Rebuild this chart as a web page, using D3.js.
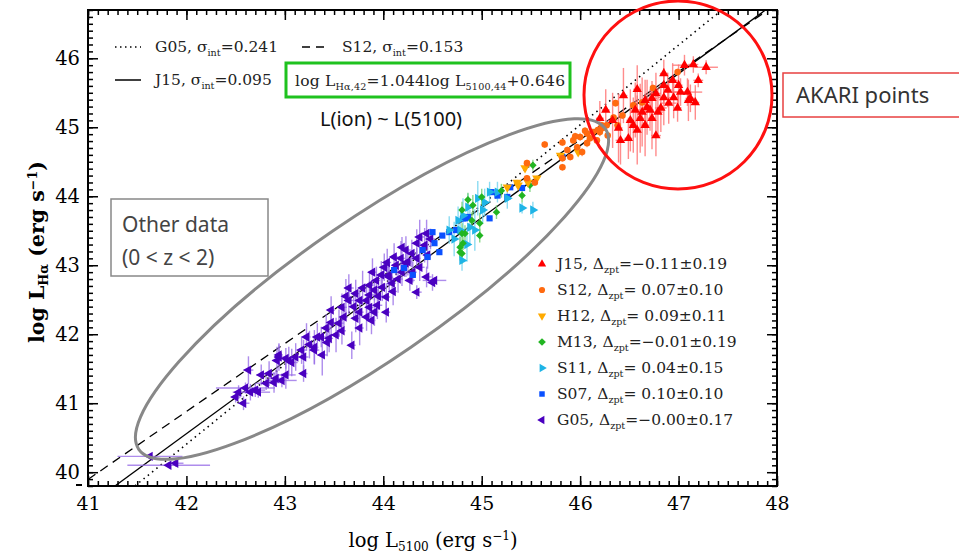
<!DOCTYPE html>
<html><head><meta charset="utf-8">
<script src="https://cdn.jsdelivr.net/npm/d3@7"></script>
<style>body{margin:0;background:#fff} svg{display:block}</style>
</head><body>
<svg id="c" width="959" height="558"></svg>
<script>
// ---------------- data ----------------
const xTicks = [41, 42, 43, 44, 45, 46, 47, 48];
const yTicks = [40, 41, 42, 43, 44, 45, 46];
const seriesNames = ["J15", "S12", "H12", "M13", "S11", "S07", "G05"];
const seriesColors = ["#ff0000", "#ff6a10", "#ffaa00", "#22b522", "#1eb4e6", "#0a50ff", "#4a00c0"];
const errColors = ["#ff7070", "#ffa070", "#ffcc66", "#70d070", "#70d4f0", "#6090ff", "#9a70e8"];
const legendDelta = ["=\u22120.11\u00b10.19", "= 0.07\u00b10.10", "= 0.09\u00b10.11", "=\u22120.01\u00b10.19", "= 0.04\u00b10.15", "= 0.10\u00b10.10", "=\u22120.00\u00b10.17"];
// fit lines: name, slope, value at log L5100 = 44, sigma_int
const fitNames = ["G05", "S12", "J15"];
const fitSlopes = [1.157, 0.985, 1.044];
const fitAt44 = [42.72, 42.85, 42.646];
const fitSigma = ["0.241", "0.153", "0.095"];

// each point: [logL5100, logLHa, xerr, yerr]
const J15 = [[47.06,45.90,0.12,0.15],[47.15,45.91,0.05,0.12],[47.28,45.87,0.12,0.1],[46.85,45.78,0.04,0.2],[47.20,45.68,0.05,0.1],[47.00,45.61,0.04,0.3],[46.85,45.61,0.05,0.25],[46.58,45.55,0.04,0.35],[46.44,45.46,0.04,0.4],[46.77,45.49,0.05,0.3],[46.85,45.43,0.06,0.4],[46.66,45.39,0.04,0.3],[46.73,45.42,0.05,0.25],[47.02,45.51,0.1,0.2],[47.12,45.42,0.05,0.2],[47.17,45.36,0.04,0.25],[46.99,45.28,0.04,0.2],[46.82,45.28,0.06,0.35],[46.71,45.25,0.04,0.3],[46.56,45.25,0.05,0.4],[46.61,45.13,0.04,0.5],[46.51,45.10,0.04,0.45],[46.58,44.96,0.03,0.5],[46.49,44.84,0.04,0.3],[46.41,44.81,0.05,0.35],[46.73,45.13,0.04,0.45],[46.90,45.35,0.08,0.3],[47.09,45.51,0.15,0.2],[46.68,45.29,0.05,0.4],[46.63,45.22,0.04,0.5],[46.54,45.03,0.04,0.4],[46.79,45.22,0.05,0.35],[46.95,45.43,0.04,0.3],[46.89,45.54,0.04,0.25],[46.26,45.25,0.04,0.3],[46.33,45.10,0.05,0.4],[46.20,45.13,0.04,0.25],[46.39,44.99,0.04,0.5],[46.66,45.03,0.04,0.45],[46.77,44.88,0.05,0.3],[46.94,45.68,0.05,0.25],[47.10,45.39,0.04,0.3]];
const S12 = [[46.99,45.80,0.02,0.05],[46.74,45.57,0.02,0.05],[46.63,45.36,0.02,0.05],[46.54,45.32,0.02,0.05],[46.36,45.35,0.02,0.05],[46.43,45.17,0.02,0.05],[46.34,45.14,0.02,0.05],[46.27,45.03,0.02,0.05],[46.38,45.03,0.02,0.05],[46.20,44.93,0.02,0.06],[45.64,44.75,0.02,0.05],[45.82,44.78,0.02,0.05],[45.93,44.81,0.02,0.05],[46.00,44.86,0.02,0.06],[46.07,44.91,0.02,0.05],[46.13,44.93,0.02,0.05],[46.18,44.96,0.02,0.05],[46.23,44.99,0.02,0.05],[46.07,44.77,0.02,0.06],[45.97,44.71,0.02,0.05],[45.87,44.67,0.02,0.05],[46.17,44.81,0.02,0.05],[46.02,44.64,0.02,0.06],[45.90,44.57,0.02,0.05],[45.82,44.42,0.02,0.05],[45.46,44.48,0.02,0.05],[45.54,44.20,0.02,0.05],[45.46,44.26,0.02,0.05],[45.82,44.55,0.02,0.05],[46.10,44.84,0.02,0.05],[46.28,44.88,0.02,0.05],[46.22,45.03,0.02,0.05],[46.05,44.95,0.02,0.05],[45.95,44.87,0.02,0.05]];
const H12 = [[45.44,44.41,0.02,0.04],[45.36,44.20,0.02,0.04],[45.47,44.20,0.02,0.04],[45.56,44.26,0.02,0.04],[45.26,44.13,0.02,0.04],[45.37,44.16,0.02,0.04],[45.98,44.64,0.02,0.04],[45.80,44.59,0.02,0.04]];
const M13 = [[45.52,44.45,0.02,0.08],[45.49,44.16,0.02,0.1],[45.41,44.01,0.02,0.1],[45.00,43.99,0.02,0.12],[44.91,43.87,0.02,0.15],[45.15,43.77,0.02,0.1],[44.80,43.80,0.02,0.12],[44.98,43.61,0.02,0.15],[44.98,43.43,0.02,0.1],[44.80,43.46,0.02,0.15],[44.78,43.26,0.02,0.15],[44.80,43.17,0.02,0.15],[44.90,43.65,0.02,0.12],[44.83,43.46,0.02,0.12],[44.78,43.19,0.02,0.12],[44.81,43.32,0.02,0.1],[44.86,43.95,0.02,0.1],[45.20,44.08,0.02,0.1]];
const S11 = [[45.41,43.83,0.02,0.08],[45.03,43.91,0.02,0.2],[45.08,44.06,0.02,0.15],[45.16,44.06,0.02,0.15],[44.86,43.84,0.02,0.2],[44.81,43.72,0.02,0.25],[44.88,43.55,0.02,0.25],[44.76,43.65,0.02,0.2],[44.93,43.51,0.02,0.3],[44.78,43.51,0.02,0.2],[44.80,43.07,0.02,0.15],[44.67,43.51,0.02,0.2],[45.01,43.80,0.02,0.2],[44.96,43.97,0.02,0.25],[45.26,43.97,0.02,0.15],[45.52,43.80,0.02,0.12],[44.72,43.38,0.02,0.25],[44.85,43.30,0.02,0.25]];
const S07 = [[45.82,44.57,0.02,0.03],[45.41,44.12,0.02,0.03],[45.29,44.13,0.02,0.03],[45.26,43.99,0.02,0.03],[45.10,44.06,0.02,0.03],[45.16,44.01,0.02,0.03],[44.86,43.70,0.02,0.03],[44.81,43.68,0.02,0.03],[45.08,43.68,0.02,0.03],[44.57,43.19,0.02,0.03],[44.50,43.48,0.02,0.03],[44.52,43.32,0.02,0.03],[44.40,43.22,0.02,0.03],[44.45,43.12,0.02,0.03],[44.60,43.43,0.02,0.03],[44.67,43.48,0.02,0.03],[44.74,43.51,0.02,0.03],[44.83,43.68,0.02,0.03],[44.21,42.96,0.02,0.03],[44.30,42.86,0.02,0.03],[44.11,42.93,0.02,0.03]];
const G05 = [[41.82,40.10,0.42,0.04],[41.89,40.13,0.08,0.05],[41.63,40.23,0.33,0.03],[42.53,41.16,0.06,0.10],[42.50,41.09,0.05,0.08],[42.58,41.00,0.06,0.10],[42.60,41.22,0.3,0.08],[42.65,41.16,0.08,0.12],[42.70,41.19,0.1,0.1],[42.73,41.16,0.12,0.08],[42.63,41.48,0.05,0.2],[42.76,41.41,0.05,0.15],[42.84,41.43,0.06,0.18],[42.81,41.29,0.1,0.1],[42.89,41.30,0.08,0.15],[42.91,41.36,0.07,0.12],[42.97,41.33,0.15,0.1],[43.01,41.41,0.1,0.2],[42.94,41.67,0.05,0.2],[43.01,41.65,0.08,0.15],[43.07,41.59,0.06,0.2],[43.19,41.67,0.05,0.25],[43.19,41.43,0.04,0.12],[43.30,41.77,0.05,0.2],[43.38,41.70,0.05,0.3],[43.43,41.88,0.05,0.2],[43.37,41.96,0.06,0.15],
[44.19,43.26,0.04,0.15],[44.29,43.17,0.05,0.2],[44.34,43.10,0.04,0.15],[44.23,43.03,0.05,0.2],[44.13,43.00,0.04,0.15],[44.37,42.97,0.05,0.2],[44.30,42.90,0.04,0.15],[44.19,42.90,0.04,0.2],[44.44,42.83,0.05,0.15],[44.50,42.75,0.04,0.12],[44.34,42.61,0.05,0.1],[44.06,42.83,0.04,0.2],[44.09,42.74,0.04,0.15],[43.99,42.68,0.05,0.2],[43.93,42.78,0.04,0.2],[43.91,42.64,0.04,0.15],[43.86,42.57,0.05,0.2],[43.79,42.67,0.04,0.25],[43.83,42.49,0.04,0.2],[43.76,42.49,0.05,0.15],[43.72,42.59,0.04,0.2],[43.65,42.67,0.05,0.2],[43.86,42.39,0.04,0.15],[43.94,42.42,0.05,0.2],[44.03,42.32,0.04,0.15],[43.91,42.32,0.04,0.2],[43.83,42.25,0.05,0.2],[43.76,42.32,0.04,0.15],[43.72,42.23,0.04,0.2],[43.58,42.39,0.05,0.2],[43.47,42.35,0.04,0.2],[43.60,42.25,0.04,0.15],[43.55,42.16,0.05,0.2],[43.76,42.09,0.04,0.25],[43.47,42.17,0.04,0.2],[43.42,42.09,0.05,0.2],[43.52,41.99,0.04,0.25],[43.45,41.94,0.04,0.2],[43.33,41.96,0.05,0.2],[43.22,41.96,0.04,0.2],[43.30,41.81,0.04,0.25],[43.17,41.77,0.05,0.2],[43.68,41.84,0.04,0.2],[43.11,41.67,0.04,0.2],[43.04,41.62,0.05,0.2],[42.94,41.70,0.04,0.15],[42.92,41.62,0.05,0.2],
[44.34,43.32,0.04,0.2],[44.37,43.41,0.05,0.25],[44.44,43.46,0.04,0.2],[44.23,43.22,0.05,0.2],[44.42,43.29,0.04,0.25],[44.11,43.12,0.04,0.2],[44.01,42.97,0.05,0.2],[44.18,43.10,0.04,0.25],[44.04,43.04,0.04,0.2],[43.98,42.86,0.05,0.2],[43.89,42.90,0.04,0.2],[44.27,42.78,0.05,0.15],[44.52,42.78,0.12,0.05],[44.03,42.54,0.04,0.2],[43.65,42.49,0.05,0.2],[43.86,42.71,0.04,0.2],[44.25,43.05,0.04,0.2],[44.05,42.85,0.04,0.15],[44.15,42.80,0.05,0.2],[43.95,42.55,0.04,0.2],[44.45,43.15,0.04,0.2],[43.70,42.40,0.04,0.2],[44.48,43.38,0.05,0.15],[43.58,42.05,0.04,0.2],[43.25,41.85,0.04,0.2],[43.88,42.20,0.04,0.2],[44.10,42.62,0.04,0.2],[43.62,42.55,0.04,0.25]];

const seriesData = [J15, S12, H12, M13, S11, S07, G05];
const seriesSymbol = ["tri", "circle", "tri", "diamond", "tri", "square", "tri"];
const seriesRotate = [0, 0, 180, 45, 90, 0, -90];

// ---------------- chart ----------------
const svg = d3.select("#c");
const L = 88, R = 777, T = 10, B = 486;
const x = d3.scaleLinear().domain([41, 48]).range([L, R]);
const y = d3.scaleLinear().domain([39.8, 46.7]).range([B, T]);
const serif = "'DejaVu Serif', serif";
const sans = "'Noto Sans', 'Open Sans', sans-serif";

svg.append("defs").append("clipPath").attr("id", "clip")
  .append("rect").attr("x", L).attr("y", T).attr("width", R - L).attr("height", B - T);

// fit lines
const dashes = ["1.5,4", "9,6", null];
const plot = svg.append("g").attr("clip-path", "url(#clip)");
fitNames.forEach((n, i) => {
  const f = v => fitAt44[i] + fitSlopes[i] * (v - 44);
  plot.append("line")
    .attr("x1", x(41)).attr("y1", y(f(41))).attr("x2", x(48)).attr("y2", y(f(48)))
    .attr("stroke", "#000").attr("stroke-width", i === 0 ? 1.6 : 1.3)
    .attr("stroke-dasharray", dashes[i]);
});

// error bars then markers, drawn bottom series first
const order = [6, 5, 4, 3, 2, 1, 0];
order.forEach(si => {
  const g = plot.append("g");
  const data = seriesData[si];
  g.selectAll("line.v").data(data).join("line")
    .attr("x1", d => x(d[0])).attr("x2", d => x(d[0]))
    .attr("y1", d => y(d[1] - d[3])).attr("y2", d => y(d[1] + d[3]))
    .attr("stroke", errColors[si]).attr("stroke-width", 1.4).attr("opacity", 0.8);
  g.selectAll("line.h").data(data).join("line")
    .attr("x1", d => x(d[0] - d[2])).attr("x2", d => x(d[0] + d[2]))
    .attr("y1", d => y(d[1])).attr("y2", d => y(d[1]))
    .attr("stroke", errColors[si]).attr("stroke-width", 1.4).attr("opacity", 0.8);
});
function symPath(kind) {
  if (kind === "tri") return d3.symbol(d3.symbolTriangle, 38)();
  if (kind === "circle") return d3.symbol(d3.symbolCircle, 34)();
  if (kind === "diamond") return d3.symbol(d3.symbolSquare, 28)();
  return d3.symbol(d3.symbolSquare, 38)();
}
order.forEach(si => {
  plot.append("g").selectAll("path").data(seriesData[si]).join("path")
    .attr("d", symPath(seriesSymbol[si]))
    .attr("transform", d => `translate(${x(d[0])},${y(d[1])}) rotate(${seriesRotate[si]})`)
    .attr("fill", seriesColors[si]);
});

// axes with inward ticks
function styleAxis(g) { g.selectAll("path.domain").remove(); g.selectAll("line").attr("stroke", "#000").attr("stroke-width", 1.5); }
const minorX = d3.range(41, 48.001, 0.1).map(v => +v.toFixed(1));
const minorY = d3.range(39.8, 46.701, 0.1).map(v => +v.toFixed(1));
svg.append("g").attr("transform", `translate(0,${B})`)
  .call(d3.axisBottom(x).tickValues(minorX).tickSize(-5).tickFormat("")).call(styleAxis);
svg.append("g").attr("transform", `translate(0,${T})`)
  .call(d3.axisTop(x).tickValues(minorX).tickSize(-5).tickFormat("")).call(styleAxis);
svg.append("g").attr("transform", `translate(${L},0)`)
  .call(d3.axisLeft(y).tickValues(minorY).tickSize(-5).tickFormat("")).call(styleAxis);
svg.append("g").attr("transform", `translate(${R},0)`)
  .call(d3.axisRight(y).tickValues(minorY).tickSize(-5).tickFormat("")).call(styleAxis);

const xb = svg.append("g").attr("transform", `translate(0,${B})`)
  .call(d3.axisBottom(x).tickValues(xTicks).tickSize(-10).tickPadding(11).tickFormat(d3.format("d"))).call(styleAxis);
xb.selectAll("text").attr("font-family", serif).attr("font-size", 19).attr("fill", "#000");
svg.append("g").attr("transform", `translate(0,${T})`)
  .call(d3.axisTop(x).tickValues(xTicks).tickSize(-10).tickFormat("")).call(styleAxis);
const yl = svg.append("g").attr("transform", `translate(${L},0)`)
  .call(d3.axisLeft(y).tickValues(yTicks).tickSize(-10).tickPadding(8).tickFormat(d3.format("d"))).call(styleAxis);
yl.selectAll("text").attr("font-family", serif).attr("font-size", 19.5).attr("fill", "#000");
svg.append("g").attr("transform", `translate(${R},0)`)
  .call(d3.axisRight(y).tickValues(yTicks).tickSize(-10).tickFormat("")).call(styleAxis);

svg.append("rect").attr("x", L).attr("y", T).attr("width", R - L).attr("height", B - T)
  .attr("fill", "none").attr("stroke", "#000").attr("stroke-width", 2);
svg.append("line").attr("x1", 76).attr("x2", 82).attr("y1", 485).attr("y2", 485).attr("stroke", "#000").attr("stroke-width", 2);

// axis titles
function richText(sel, parts) {
  parts.forEach(p => {
    const t = sel.append("tspan").text(p[0]);
    if (p[1] === "sub") t.attr("dy", 4).attr("font-size", "0.62em");
    else if (p[1] === "sup") t.attr("dy", -7).attr("font-size", "0.62em");
    else if (p[1] === "back") t.attr("dy", p[2]);
  });
}
const xt = svg.append("text").attr("x", 433).attr("y", 547).attr("text-anchor", "middle")
  .attr("font-family", serif).attr("font-size", 19.5).attr("fill", "#000");
richText(xt, [["log L"], ["5100", "sub"], [" (erg s", "back", -4], ["\u22121", "sup"], [")", "back", 7]]);
const yt = svg.append("text").attr("transform", "translate(44,252) rotate(-90)").attr("text-anchor", "middle")
  .attr("font-family", serif).attr("font-size", 20.5).attr("font-weight", "bold").attr("fill", "#000");
richText(yt, [["log L"], ["H\u03b1", "sub"], [" (erg s", "back", -4], ["\u22121", "sup"], [")", "back", 7]]);

// top-left legend of fit lines
const legPos = [[115, 47], [302, 47], [115, 80]];
fitNames.forEach((n, i) => {
  const [lx, ly] = legPos[i];
  svg.append("line").attr("x1", lx).attr("x2", lx + 26).attr("y1", ly).attr("y2", ly)
    .attr("stroke", "#000").attr("stroke-width", i === 0 ? 1.6 : 1.5).attr("stroke-dasharray", dashes[i] ? (i === 0 ? "1.5,3.5" : "8,6") : null);
  const t = svg.append("text").attr("x", lx + 40).attr("y", ly + 5)
    .attr("font-family", serif).attr("font-size", 15.5).attr("fill", "#222");
  richText(t, [[n + ", \u03c3"], ["int", "sub"], ["=" + fitSigma[i], "back", -4]]);
});

// bottom-right legend of samples
seriesNames.forEach((n, i) => {
  const cy = 264 + i * 26;
  svg.append("path").attr("d", d3.symbol(seriesSymbol[i] === "circle" ? d3.symbolCircle : seriesSymbol[i] === "tri" ? d3.symbolTriangle : d3.symbolSquare, 30)())
    .attr("transform", `translate(542,${cy}) rotate(${seriesRotate[i]})`).attr("fill", seriesColors[i]);
  const t = svg.append("text").attr("x", 557).attr("y", cy + 5)
    .attr("font-family", serif).attr("font-size", 15.5).attr("fill", "#222");
  richText(t, [[n + ", \u0394"], ["zpt", "sub"], [legendDelta[i], "back", -4]]);
});

// annotations
svg.append("rect").attr("x", 286).attr("y", 63).attr("width", 284).attr("height", 34)
  .attr("fill", "#fff").attr("stroke", "#1fc21f").attr("stroke-width", 3);
const gt = svg.append("text").attr("x", 295).attr("y", 86)
  .attr("font-family", serif).attr("font-size", 15.5).attr("fill", "#222").attr("textLength", 270);
richText(gt, [["log L"], ["H\u03b1,42", "sub"], ["=1.044log L", "back", -4], ["5100,44", "sub"], ["+0.646", "back", -4]]);
svg.append("text").attr("x", 391).attr("y", 126).attr("text-anchor", "middle")
  .attr("font-family", sans).attr("font-size", 20).attr("fill", "#111").text("L(ion) ~ L(5100)");

svg.append("ellipse").attr("cx", 372).attr("cy", 289).attr("rx", 283).attr("ry", 70)
  .attr("transform", "rotate(-34.5,372,289)").attr("fill", "none").attr("stroke", "#888").attr("stroke-width", 3);
svg.append("circle").attr("cx", 678).attr("cy", 95).attr("r", 94)
  .attr("fill", "none").attr("stroke", "#ff1010").attr("stroke-width", 3);

svg.append("rect").attr("x", 111).attr("y", 199).attr("width", 157).attr("height", 77)
  .attr("fill", "#fff").attr("stroke", "#888").attr("stroke-width", 1.5);
svg.append("text").attr("x", 122).attr("y", 232).attr("font-family", sans).attr("font-size", 21).attr("fill", "#444").text("Other data");
svg.append("text").attr("x", 122).attr("y", 265).attr("font-family", sans).attr("font-size", 21).attr("fill", "#444").text("(0 < z < 2)");

svg.append("rect").attr("x", 783).attr("y", 73).attr("width", 190).attr("height", 44)
  .attr("fill", "#fff").attr("stroke", "#e84040").attr("stroke-width", 1.5);
svg.append("text").attr("x", 796).attr("y", 103).attr("font-family", sans).attr("font-size", 22).attr("fill", "#333").text("AKARI points");
</script>
</body></html>
